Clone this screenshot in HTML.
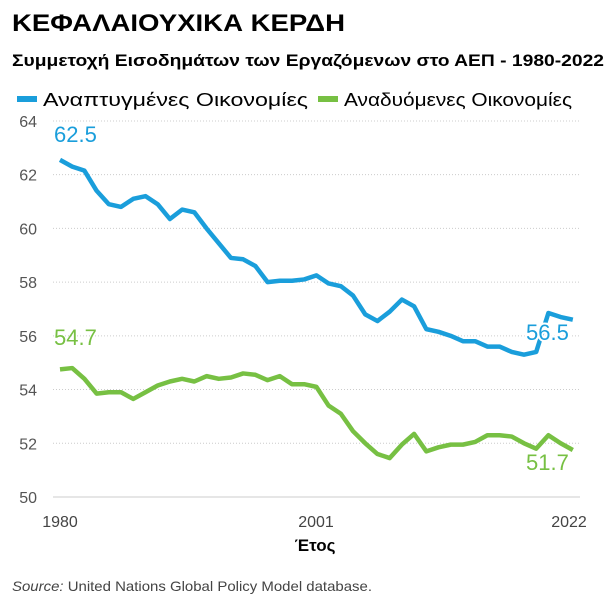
<!DOCTYPE html>
<html><head><meta charset="utf-8"><style>
body{margin:0;background:#fff;width:612px;height:604px;overflow:hidden;font-family:"Liberation Sans",sans-serif}
</style></head><body>
<svg width="612" height="604" xmlns="http://www.w3.org/2000/svg" font-family="Liberation Sans, sans-serif">
<text x="12" y="31" font-size="24" font-weight="bold" fill="#000" textLength="333" lengthAdjust="spacingAndGlyphs">ΚΕΦΑΛΑΙΟΥΧΙΚΑ ΚΕΡΔΗ</text>
<text x="12" y="66" font-size="16.5" font-weight="bold" fill="#000" textLength="592" lengthAdjust="spacingAndGlyphs">Συμμετοχή Εισοδημάτων των Εργαζόμενων στο ΑΕΠ - 1980-2022</text>
<rect x="17" y="96" width="20" height="6" fill="#1a9edb"/>
<text x="43" y="106" font-size="18" fill="#000" textLength="265" lengthAdjust="spacingAndGlyphs">Αναπτυγμένες Οικονομίες</text>
<rect x="318" y="96" width="20" height="6" fill="#77c043"/>
<text x="344" y="106" font-size="18" fill="#000" textLength="228" lengthAdjust="spacingAndGlyphs">Αναδυόμενες Οικονομίες</text>
<g id="grid" stroke="#ccc" stroke-dasharray="1,2" stroke-width="1"></g>
<g font-size="16" fill="#555" text-anchor="end" id="yl"></g>
<line x1="53" y1="497" x2="580" y2="497" stroke="#ccc"/>
<g font-size="16" fill="#444" text-anchor="middle">
<text x="60" y="527">1980</text><text x="316" y="527">2001</text><text x="569" y="527">2022</text>
</g>
<text x="315" y="551" font-size="17" font-weight="bold" text-anchor="middle" fill="#000">Έτος</text>
<polyline id="b" fill="none" stroke="#1a9edb" stroke-width="4.5" stroke-linejoin="round"/>
<polyline id="g" fill="none" stroke="#77c043" stroke-width="4.5" stroke-linejoin="round"/>
<text x="54" y="142" font-size="22" fill="#1a9edb">62.5</text>
<text x="54" y="345" font-size="22" fill="#77c043">54.7</text>
<text x="526" y="340" font-size="22" fill="#1a9edb" stroke="#fff" stroke-width="4" paint-order="stroke">56.5</text>
<text x="526" y="470" font-size="22" fill="#77c043">51.7</text>
<text x="12" y="591" font-size="14" fill="#444" textLength="360" lengthAdjust="spacingAndGlyphs"><tspan font-style="italic">Source:</tspan> United Nations Global Policy Model database.</text>
</svg>
<script>
var Y=v=>497-(v-50)*26.86, X=i=>60+i*12.21;
var g=document.getElementById('grid'),yl=document.getElementById('yl');
for(var v=52;v<=64;v+=2){g.innerHTML+='<line x1="53" x2="580" y1="'+Y(v)+'" y2="'+Y(v)+'"/>';}
for(var v=50;v<=64;v+=2){yl.innerHTML+='<text x="37" y="'+(Y(v)+6)+'">'+v+'</text>';}
var b=[62.55,62.3,62.15,61.4,60.9,60.8,61.1,61.2,60.9,60.35,60.7,60.6,60.0,59.45,58.9,58.85,58.6,58.0,58.05,58.05,58.1,58.25,57.95,57.85,57.5,56.8,56.55,56.9,57.35,57.1,56.25,56.15,56.0,55.8,55.8,55.6,55.6,55.4,55.3,55.4,56.85,56.7,56.6];
var gr=[54.75,54.8,54.4,53.85,53.9,53.9,53.65,53.9,54.15,54.3,54.4,54.3,54.5,54.4,54.45,54.6,54.55,54.35,54.5,54.2,54.2,54.1,53.4,53.1,52.45,52.0,51.6,51.45,51.95,52.35,51.7,51.85,51.95,51.95,52.05,52.3,52.3,52.25,52.0,51.8,52.3,52.0,51.75];
document.getElementById('b').setAttribute('points',b.map((v,i)=>X(i)+','+Y(v)).join(' '));
document.getElementById('g').setAttribute('points',gr.map((v,i)=>X(i)+','+Y(v)).join(' '));
</script>
</body></html>
